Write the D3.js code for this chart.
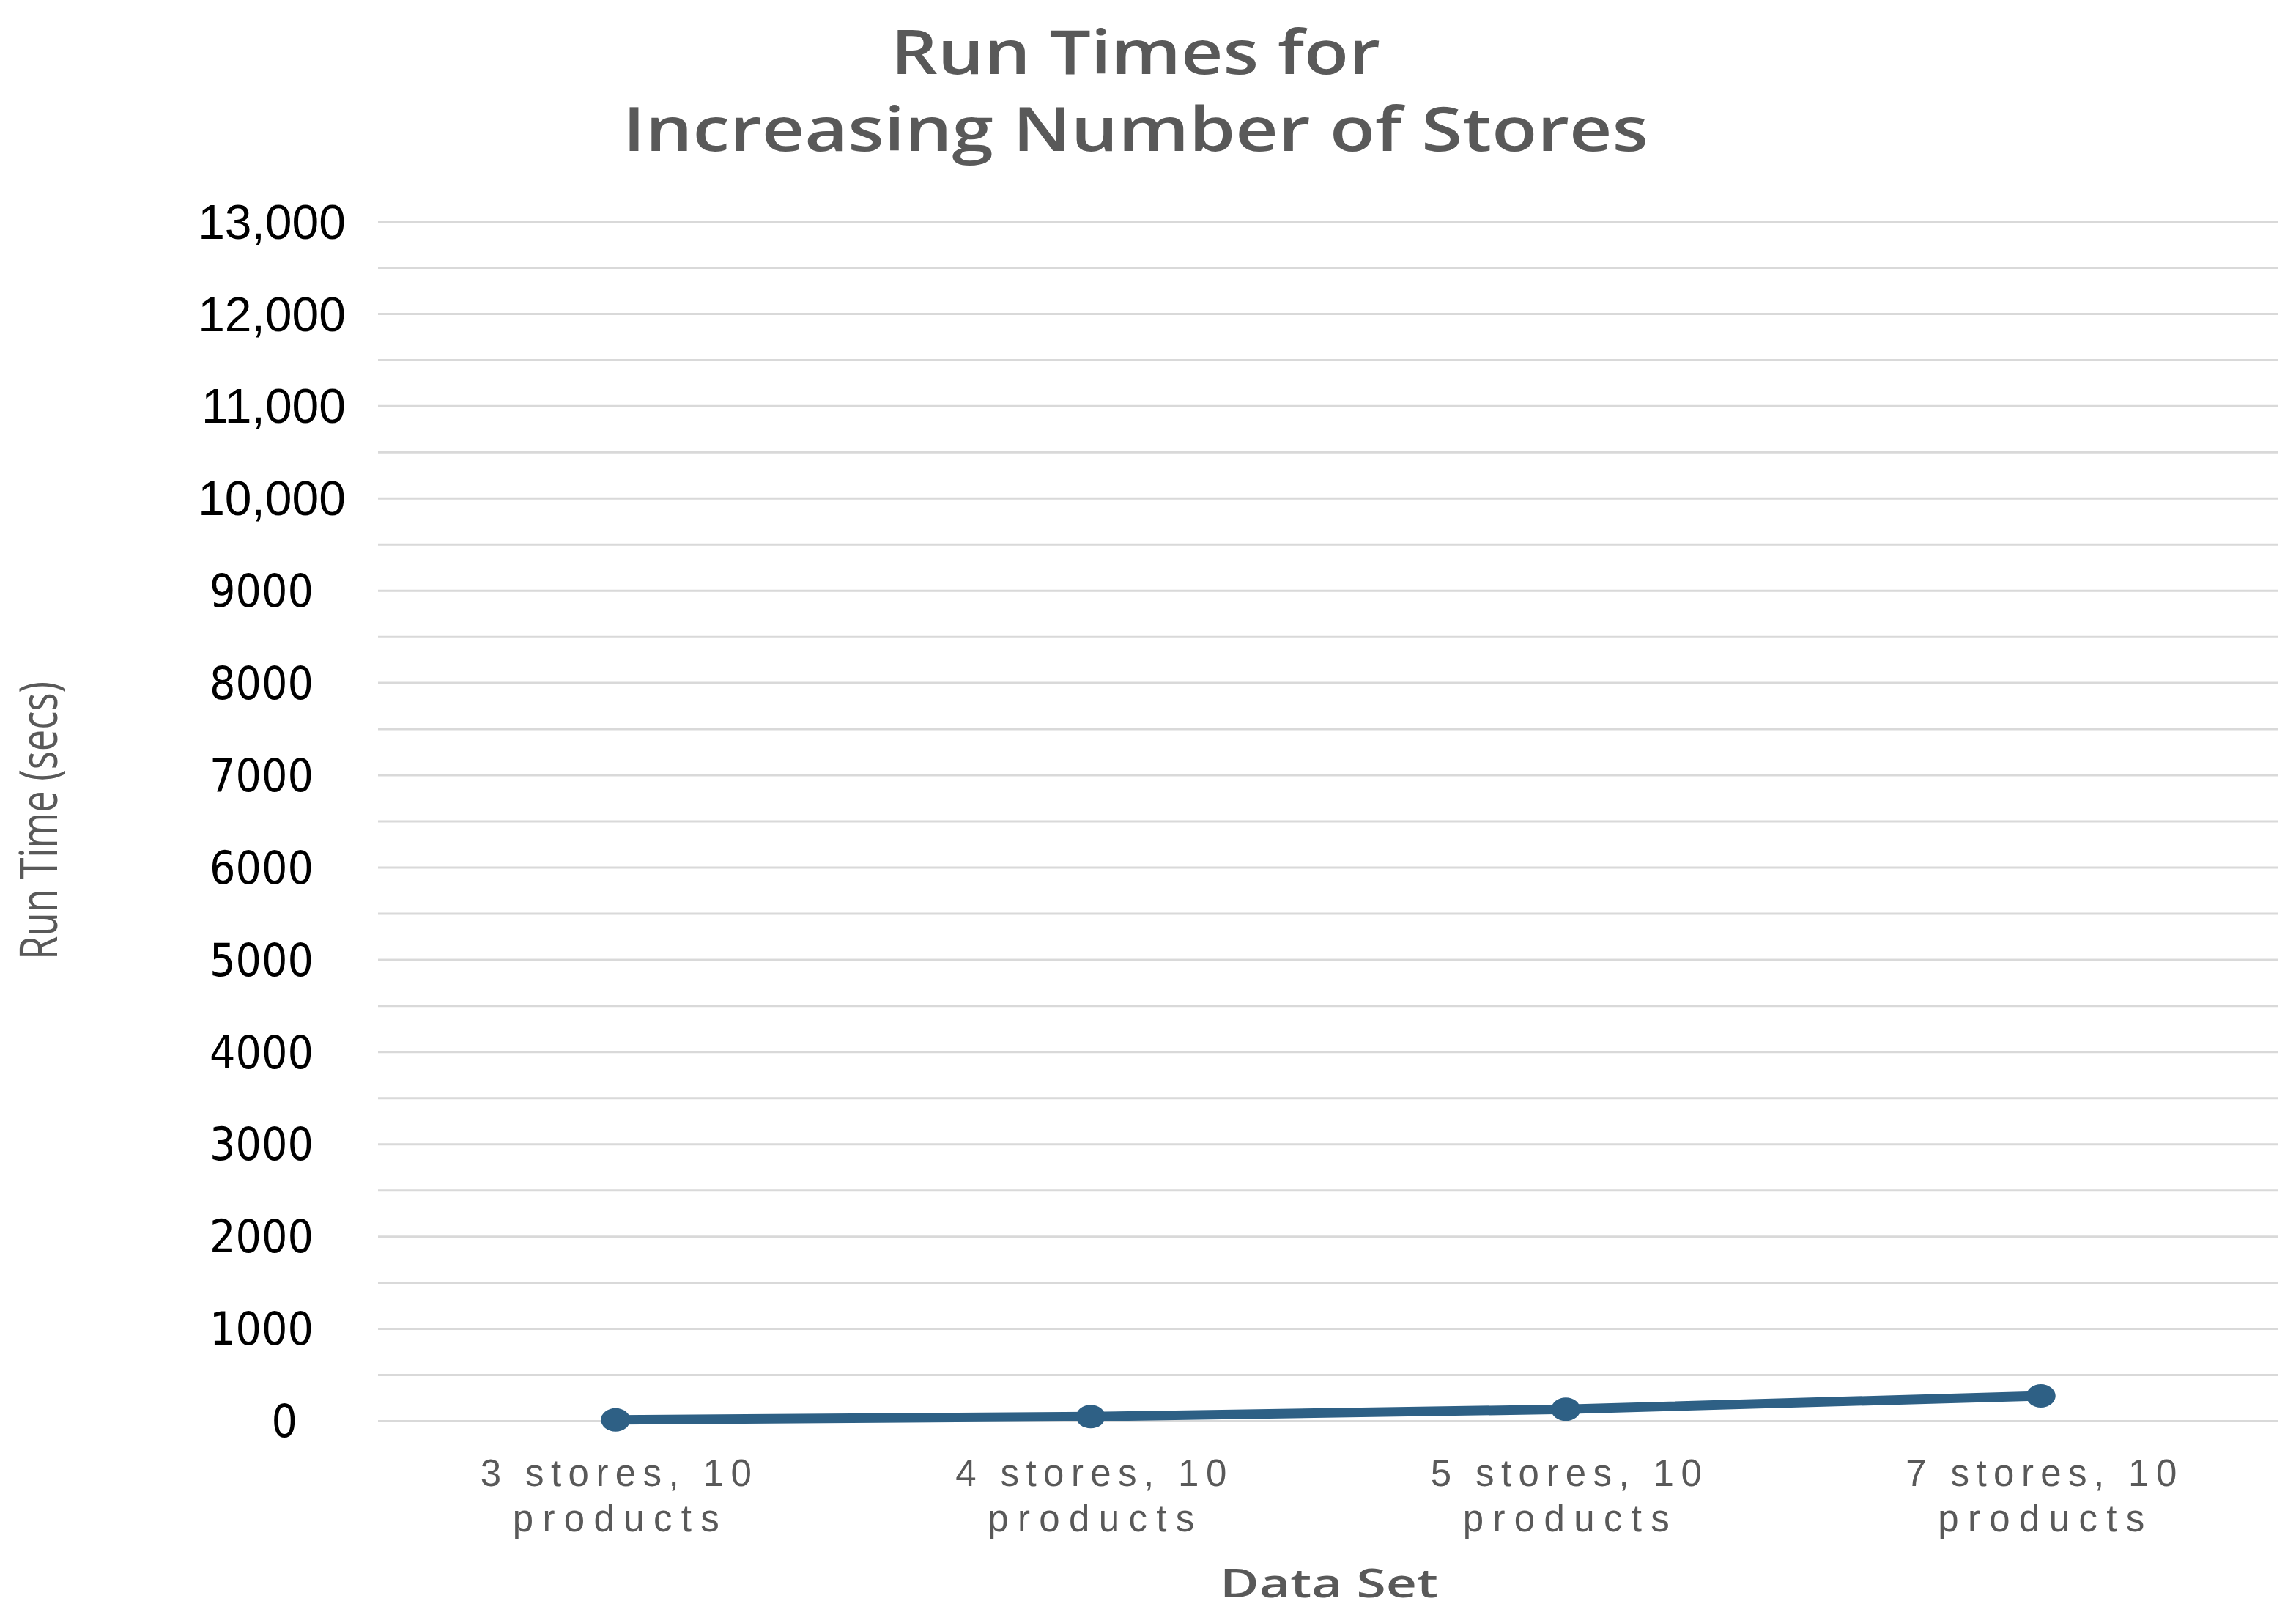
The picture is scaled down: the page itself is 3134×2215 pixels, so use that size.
<!DOCTYPE html>
<html>
<head>
<meta charset="utf-8">
<script src="https://cdn.jsdelivr.net/npm/d3@7"></script>
<style>
  html, body { margin: 0; padding: 0; background: #ffffff; }
  svg { display: block; }
</style>
</head>
<body>
<svg id="chart" width="3134" height="2215"></svg>
<script>
// ---- data ----
const categories = ["3 stores, 10 products", "4 stores, 10 products", "5 stores, 10 products", "7 stores, 10 products"];
const runTimes = [10, 45, 125, 270];
const gridValues = d3.range(0, 13001, 500);
const tickLabels = [0, 1000, 2000, 3000, 4000, 5000, 6000, 7000, 8000, 9000, 10000, 11000, 12000, 13000];
const titleLines = ["Run Times for", "Increasing Number of Stores"];
const yTitle = "Run Time (secs)";
const xTitle = "Data Set";

(function () {
// ---- layout ----
const W = 3134, H = 2215;
const plotLeft = 516, plotRight = 3110, plotTop = 302, plotBottom = 1939;
const svg = d3.select("#chart");
svg.append("rect").attr("width", W).attr("height", H).attr("fill", "#ffffff");

const x = d3.scalePoint().domain(categories).range([plotLeft, plotRight]).padding(0.5);
const y = d3.scaleLinear().domain([0, 13000]).range([plotBottom, plotTop]);

// gridlines
const grid = svg.append("g").attr("transform", `translate(${plotLeft},0)`)
  .call(d3.axisLeft(y).tickValues(gridValues).tickSize(-(plotRight - plotLeft)).tickFormat(""));
grid.select(".domain").remove();
grid.selectAll(".tick line").attr("stroke", "#d9d9d9").attr("stroke-width", 3);

// y tick labels
const yAx = svg.append("g").attr("transform", `translate(${plotLeft},0)`)
  .call(d3.axisLeft(y).tickValues(tickLabels).tickSize(0)
    .tickFormat(d => d >= 10000 ? d3.format(",")(d) : String(d)));
yAx.select(".domain").remove();
yAx.selectAll(".tick text")
  .attr("fill", "#000000")
  .attr("text-anchor", "end")
  .attr("dy", "0.35em")
  .attr("x", d => d >= 10000 ? -44 : (d === 0 ? -110 : -88))
  .style("font-family", d => d >= 10000 ? "'Liberation Sans', Arial, sans-serif" : "'Liberation Sans Narrow', 'DejaVu Sans Condensed', sans-serif")
  .style("font-size", d => d >= 10000 ? "66px" : "62px");

// x axis labels
const xAx = svg.append("g").attr("transform", `translate(0,${plotBottom})`)
  .call(d3.axisBottom(x).tickSize(0));
xAx.select(".domain").remove();
xAx.selectAll(".tick text").each(function(d) {
  const t = d3.select(this);
  const cut = d.lastIndexOf(" ");
  const l1 = d.slice(0, cut), l2 = d.slice(cut + 1);
  t.text(null).attr("y", 0).attr("dy", null)
    .attr("fill", "#595959")
    .style("font-family", "'Liberation Sans', Arial, sans-serif")
    .style("font-size", "51px")
    .attr("text-anchor", "middle");
  t.append("tspan").attr("x", 0).attr("y", 89)
    .attr("textLength", 370).attr("lengthAdjust", "spacing").text(l1);
  t.append("tspan").attr("x", 0).attr("y", 151)
    .attr("textLength", 282).attr("lengthAdjust", "spacing").text(l2);
});

// line + markers
const line = d3.line().x((d, i) => x(categories[i])).y(d => y(d));
svg.append("path").datum(runTimes)
  .attr("d", line)
  .attr("fill", "none")
  .attr("stroke", "#2e6085")
  .attr("stroke-width", 13)
  .attr("stroke-linejoin", "round");
svg.append("g").selectAll("ellipse").data(runTimes).join("ellipse")
  .attr("cx", (d, i) => x(categories[i]))
  .attr("cy", d => y(d))
  .attr("rx", 20).attr("ry", 16)
  .attr("fill", "#2e6085");

// title
svg.append("g").selectAll("text").data(titleLines).join("text")
  .attr("x", 1550)
  .attr("y", (d, i) => i === 0 ? 101 : 206)
  .attr("text-anchor", "middle")
  .attr("fill", "#595959")
  .attr("textLength", (d, i) => i === 0 ? 668 : 1400)
  .attr("lengthAdjust", "spacingAndGlyphs")
  .style("font-family", "'Open Sans', 'Noto Sans', sans-serif")
  .style("font-weight", "600")
  .style("font-size", "84px")
  .text(d => d);

// axis titles
svg.append("text")
  .attr("transform", "translate(78,1120) rotate(-90)")
  .attr("text-anchor", "middle")
  .attr("fill", "#595959")
  .attr("textLength", 380)
  .attr("lengthAdjust", "spacingAndGlyphs")
  .style("font-family", "'Liberation Sans Narrow', 'Open Sans', sans-serif")
  .style("font-size", "72px")
  .text(yTitle);

svg.append("text")
  .attr("x", 1814).attr("y", 2180)
  .attr("text-anchor", "middle")
  .attr("fill", "#595959")
  .attr("textLength", 298)
  .attr("lengthAdjust", "spacingAndGlyphs")
  .style("font-family", "'Open Sans', 'Noto Sans', sans-serif")
  .style("font-weight", "600")
  .style("font-size", "54px")
  .text(xTitle);
})();
</script>
</body>
</html>
